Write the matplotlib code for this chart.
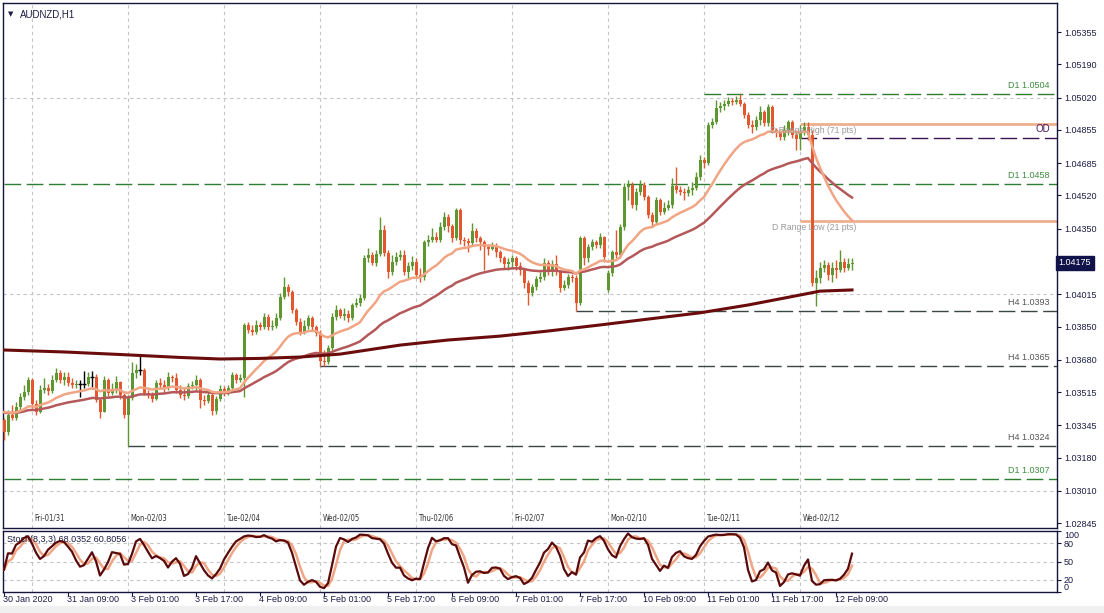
import numpy as np
import pandas as pd
import matplotlib
matplotlib.use("Agg")
import matplotlib.pyplot as plt
from matplotlib.transforms import blended_transform_factory

plt.rcParams['font.family'] = ['Liberation Sans', 'DejaVu Sans']

# AUDNZD H1 candles, bar 0 = 30 Jan 2020 17:00
close = [1.03311, 1.03397, 1.03382, 1.03438, 1.03490, 1.03516, 1.03577, 1.03454, 1.03413, 1.03526,
         1.03536, 1.03521, 1.03577, 1.03613, 1.03577, 1.03593, 1.03562, 1.03552, 1.03557, 1.03557,
         1.03557, 1.03593, 1.03593, 1.03474, 1.03413, 1.03577, 1.03510, 1.03531, 1.03567, 1.03500,
         1.03397, 1.03485, 1.03613, 1.03628, 1.03628, 1.03510, 1.03500, 1.03479, 1.03562, 1.03552,
         1.03536, 1.03593, 1.03588, 1.03526, 1.03500, 1.03495, 1.03547, 1.03552, 1.03577, 1.03474,
         1.03469, 1.03500, 1.03418, 1.03479, 1.03531, 1.03510, 1.03536, 1.03603, 1.03577, 1.03588,
         1.03858, 1.03832, 1.03822, 1.03858, 1.03847, 1.03898, 1.03847, 1.03852, 1.03893, 1.04001,
         1.04052, 1.04026, 1.03934, 1.03873, 1.03822, 1.03852, 1.03893, 1.03847, 1.03817, 1.03674,
         1.03668, 1.03740, 1.03898, 1.03934, 1.03904, 1.03914, 1.03893, 1.03960, 1.03970, 1.03996,
         1.04200, 1.04215, 1.04174, 1.04221, 1.04343, 1.04226, 1.04128, 1.04180, 1.04205, 1.04215,
         1.04128, 1.04159, 1.04180, 1.04113, 1.04103, 1.04282, 1.04292, 1.04307, 1.04292, 1.04359,
         1.04410, 1.04364, 1.04302, 1.04446, 1.04292, 1.04287, 1.04277, 1.04338, 1.04302, 1.04282,
         1.04256, 1.04246, 1.04261, 1.04231, 1.04200, 1.04169, 1.04180, 1.04200, 1.04159, 1.04139,
         1.04072, 1.04021, 1.04052, 1.04093, 1.04103, 1.04174, 1.04128, 1.04169, 1.04128, 1.04047,
         1.04062, 1.04103, 1.04098, 1.03970, 1.04302, 1.04200, 1.04256, 1.04282, 1.04267, 1.04307,
         1.04205, 1.04123, 1.04231, 1.04215, 1.04359, 1.04563, 1.04573, 1.04471, 1.04538, 1.04573,
         1.04512, 1.04420, 1.04384, 1.04497, 1.04435, 1.04456, 1.04471, 1.04568, 1.04548, 1.04538,
         1.04532, 1.04548, 1.04558, 1.04614, 1.04701, 1.04686, 1.04880, 1.04895, 1.04967, 1.04977,
         1.04987, 1.05003, 1.04998, 1.05008, 1.04987, 1.04931, 1.04880, 1.04870, 1.04906, 1.04946,
         1.04890, 1.04972, 1.04854, 1.04839, 1.04819, 1.04854, 1.04895, 1.04829, 1.04808, 1.04844,
         1.04870, 1.04829, 1.04072, 1.04098, 1.04149, 1.04164, 1.04113, 1.04149, 1.04139, 1.04180,
         1.04149, 1.04169, 1.04175]
high = [1.03382, 1.03423, 1.03449, 1.03464, 1.03510, 1.03552, 1.03593, 1.03588, 1.03474, 1.03552,
        1.03588, 1.03557, 1.03603, 1.03638, 1.03628, 1.03618, 1.03618, 1.03588, 1.03577, 1.03577,
        1.03623, 1.03618, 1.03623, 1.03608, 1.03485, 1.03598, 1.03588, 1.03562, 1.03598, 1.03572,
        1.03510, 1.03500, 1.03668, 1.03658, 1.03704, 1.03638, 1.03526, 1.03516, 1.03577, 1.03588,
        1.03577, 1.03618, 1.03603, 1.03613, 1.03552, 1.03536, 1.03562, 1.03572, 1.03603, 1.03588,
        1.03500, 1.03516, 1.03510, 1.03495, 1.03552, 1.03547, 1.03552, 1.03618, 1.03613, 1.03608,
        1.03868, 1.03873, 1.03858, 1.03883, 1.03873, 1.03919, 1.03914, 1.03883, 1.03919, 1.04021,
        1.04103, 1.04067, 1.04037, 1.03944, 1.03893, 1.03883, 1.03909, 1.03904, 1.03858, 1.03832,
        1.03730, 1.03755, 1.03919, 1.03960, 1.03944, 1.03944, 1.03934, 1.03970, 1.03996, 1.04016,
        1.04215, 1.04251, 1.04231, 1.04241, 1.04410, 1.04369, 1.04241, 1.04215, 1.04231, 1.04241,
        1.04241, 1.04180, 1.04210, 1.04200, 1.04149, 1.04292, 1.04318, 1.04353, 1.04333, 1.04384,
        1.04435, 1.04425, 1.04374, 1.04456, 1.04456, 1.04307, 1.04302, 1.04379, 1.04353, 1.04313,
        1.04292, 1.04272, 1.04282, 1.04277, 1.04241, 1.04210, 1.04200, 1.04215, 1.04210, 1.04180,
        1.04149, 1.04088, 1.04067, 1.04108, 1.04128, 1.04200, 1.04190, 1.04190, 1.04215, 1.04139,
        1.04088, 1.04118, 1.04118, 1.04113, 1.04313, 1.04313, 1.04272, 1.04297, 1.04292, 1.04328,
        1.04313, 1.04139, 1.04241, 1.04343, 1.04374, 1.04583, 1.04599, 1.04589, 1.04558, 1.04599,
        1.04589, 1.04522, 1.04435, 1.04512, 1.04507, 1.04486, 1.04497, 1.04609, 1.04665, 1.04568,
        1.04558, 1.04568, 1.04589, 1.04640, 1.04727, 1.04716, 1.04895, 1.04916, 1.05008, 1.04998,
        1.05008, 1.05023, 1.05018, 1.05028, 1.05040, 1.04998, 1.04946, 1.04906, 1.04926, 1.04977,
        1.04957, 1.04987, 1.04982, 1.04865, 1.04854, 1.04880, 1.04906, 1.04906, 1.04854, 1.04880,
        1.04895, 1.04895, 1.04854, 1.04139, 1.04180, 1.04190, 1.04180, 1.04180, 1.04190, 1.04241,
        1.04200, 1.04200, 1.04200]
low = [1.03270, 1.03295, 1.03372, 1.03372, 1.03423, 1.03474, 1.03500, 1.03433, 1.03397, 1.03408,
       1.03510, 1.03500, 1.03510, 1.03567, 1.03562, 1.03552, 1.03547, 1.03536, 1.03536, 1.03490,
       1.03536, 1.03547, 1.03531, 1.03464, 1.03382, 1.03413, 1.03495, 1.03500, 1.03510, 1.03479,
       1.03382, 1.03240, 1.03474, 1.03588, 1.03603, 1.03500, 1.03485, 1.03464, 1.03474, 1.03531,
       1.03516, 1.03526, 1.03567, 1.03510, 1.03485, 1.03474, 1.03485, 1.03531, 1.03526, 1.03433,
       1.03449, 1.03459, 1.03397, 1.03403, 1.03469, 1.03495, 1.03500, 1.03526, 1.03562, 1.03567,
       1.03490, 1.03817, 1.03806, 1.03812, 1.03832, 1.03837, 1.03832, 1.03832, 1.03842, 1.03883,
       1.03990, 1.04006, 1.03919, 1.03858, 1.03806, 1.03812, 1.03837, 1.03832, 1.03801, 1.03650,
       1.03648, 1.03658, 1.03730, 1.03883, 1.03893, 1.03883, 1.03873, 1.03883, 1.03950, 1.03955,
       1.03985, 1.04180, 1.04164, 1.04159, 1.04210, 1.04210, 1.04098, 1.04113, 1.04164, 1.04190,
       1.04113, 1.04098, 1.04139, 1.04098, 1.04077, 1.04088, 1.04261, 1.04282, 1.04282, 1.04282,
       1.04343, 1.04333, 1.04282, 1.04292, 1.04272, 1.04261, 1.04231, 1.04261, 1.04282, 1.04241,
       1.04139, 1.04215, 1.04241, 1.04205, 1.04180, 1.04149, 1.04139, 1.04149, 1.04139, 1.04113,
       1.04047, 1.03960, 1.04006, 1.04037, 1.04077, 1.04088, 1.04113, 1.04108, 1.04113, 1.04026,
       1.04037, 1.04047, 1.04077, 1.03930, 1.03960, 1.04164, 1.04180, 1.04241, 1.04251, 1.04251,
       1.04180, 1.04026, 1.04108, 1.04200, 1.04200, 1.04343, 1.04497, 1.04456, 1.04446, 1.04522,
       1.04497, 1.04405, 1.04359, 1.04369, 1.04420, 1.04425, 1.04446, 1.04456, 1.04532, 1.04522,
       1.04497, 1.04517, 1.04522, 1.04548, 1.04599, 1.04660, 1.04676, 1.04865, 1.04885, 1.04946,
       1.04957, 1.04977, 1.04982, 1.04987, 1.04977, 1.04916, 1.04865, 1.04839, 1.04854, 1.04880,
       1.04875, 1.04875, 1.04839, 1.04819, 1.04803, 1.04803, 1.04829, 1.04814, 1.04752, 1.04752,
       1.04829, 1.04803, 1.04057, 1.03955, 1.04072, 1.04128, 1.04088, 1.04077, 1.04098, 1.04128,
       1.04128, 1.04139, 1.04139]
first_open = 1.03372
gap_open = {151: 1.04037}

# 200 MA
ma200_bar = [0, 15, 29, 44, 54, 64, 74, 84, 99, 111, 124, 136, 149, 161, 174, 186, 199, 204, 212]
ma200_val = [1.03730, 1.03720, 1.03707, 1.03692, 1.03684, 1.03687, 1.03694, 1.03709, 1.03755, 1.03781,
             1.03801, 1.03827, 1.03858, 1.03888, 1.03920, 1.03960, 1.04011, 1.04031, 1.04037]
ema21_start = 1.03423
ema50_start = 1.03413

# levels: (price, first bar, label, kind)
levels = [(1.0504, 175, "D1 1.0504", "D1"), (1.0458, 0, "D1 1.0458", "D1"),
          (1.0393, 143, "H4 1.0393", "H4"), (1.0365, 79, "H4 1.0365", "H4"),
          (1.0324, 31, "H4 1.0324", "H4"), (1.0307, 0, "D1 1.0307", "D1")]
od_price = 1.04814
range_high = 1.04885
range_low = 1.04389
range_start = 199

price_ticks = [1.05355, 1.05190, 1.05020, 1.04855, 1.04685, 1.04520, 1.04350, 1.04015,
               1.03850, 1.03680, 1.03515, 1.03345, 1.03180, 1.03010, 1.02845]
grid_prices = [1.05020, 1.04015, 1.03010]
day_bars = [7, 31, 55, 79, 103, 127, 151, 175, 199]
day_labels = ["Fri-01/31", "Mon-02/03", "Tue-02/04", "Wed-02/05", "Thu-02/06",
              "Fri-02/07", "Mon-02/10", "Tue-02/11", "Wed-02/12"]
time_bars = [0, 16, 32, 48, 64, 80, 96, 112, 128, 144, 160, 176, 192, 208]
time_labels = ["30 Jan 2020", "31 Jan 09:00", "3 Feb 01:00", "3 Feb 17:00", "4 Feb 09:00",
               "5 Feb 01:00", "5 Feb 17:00", "6 Feb 09:00", "7 Feb 01:00", "7 Feb 17:00",
               "10 Feb 09:00", "11 Feb 01:00", "11 Feb 17:00", "12 Feb 09:00"]

n = len(close)
x = np.arange(n)
op = [first_open] + close[:-1]
for k, v in gap_open.items():
    op[k] = v
op = np.array(op); cl = np.array(close); hi = np.array(high); lo = np.array(low)


def ema(vals, period, seed):
    a = 2.0 / (period + 1)
    out, e = [], seed
    for v in vals:
        e = e + a * (v - e)
        out.append(e)
    return np.array(out)


ema21 = ema(cl, 21, ema21_start)
ema50 = ema(cl, 50, ema50_start)

cs, hs, ls = pd.Series(cl), pd.Series(hi), pd.Series(lo)
hh = hs.rolling(8, min_periods=1).max()
ll = ls.rolling(8, min_periods=1).min()
k_line = 100 * (cs - ll).rolling(3, min_periods=1).sum() / (hh - ll).rolling(3, min_periods=1).sum()
d_line = k_line.rolling(3, min_periods=1).mean()

W, H = 1104, 613
fig = plt.figure(figsize=(W / 100, H / 100), dpi=100)


def frame(x0, y0, x1, y1):
    return [x0 / W, 1 - y1 / H, (x1 - x0) / W, (y1 - y0) / H]


frame_col = '#14143c'
text_col = '#1c1c44'
ax = fig.add_axes(frame(3, 3, 1057, 528))
ax2 = fig.add_axes(frame(3, 531, 1057, 592))
xl = (-0.25, 263.25)
for a in (ax, ax2):
    a.set_xlim(*xl)
    for s in a.spines.values():
        s.set_color(frame_col)
        s.set_linewidth(1)
    a.set_xticks([])
    for b in day_bars:
        a.axvline(b, color='#c4c4c4', lw=0.8, ls=(0, (3, 3)), zorder=0)
ax.set_ylim(1.02820, 1.05504)

for g in grid_prices:
    ax.axhline(g, color='#c4c4c4', lw=0.8, ls=(0, (3, 3)), zorder=0)

# candles
bull, bear = '#5e9631', '#e4572e'
for i in range(n):
    if abs(cl[i] - op[i]) < 1e-6:
        col = 'black'
    elif cl[i] > op[i]:
        col = bull
    else:
        col = bear
    ax.vlines(i, lo[i], hi[i], color=col, lw=1, zorder=3)
    bot, top = min(op[i], cl[i]), max(op[i], cl[i])
    if top - bot < 2e-5:
        ax.hlines((top + bot) / 2, i - 0.4, i + 0.4, color=col, lw=1, zorder=3)
    else:
        ax.bar(i, top - bot, bottom=bot, width=0.75, color=col, lw=0, zorder=3)

ax.plot(x, ema50, color='#b4585a', lw=1.8, zorder=4)
ax.plot(x, ema21, color='#f0a584', lw=1.8, zorder=4)
ax.plot(ma200_bar, ma200_val, color='#6a0c0c', lw=2.2, zorder=4)

# levels
dash = (0, (12, 4))
lvl_style = {"D1": ('#2e7d32', '#3d8b3d'), "H4": ('#3c4646', '#555555')}
for p, b0, lab, kind in levels:
    lc, tc = lvl_style[kind]
    ax.hlines(p, b0, xl[1], color=lc, lw=1, linestyles=dash, zorder=2)
    ax.text(261.5, p + 0.00020, lab, color=tc, fontsize=6.5, ha='right', va='bottom', zorder=5)

ax.hlines(od_price, range_start, xl[1], color='#3c1450', lw=1, linestyles=dash, zorder=2)
ax.text(261.5, od_price + 0.00020, "OD", color='#4a1a62', fontsize=7, ha='right', va='bottom', zorder=5)
ax.hlines([range_high, range_low], range_start, xl[1], color='#eeb08e', lw=2, zorder=2)
ax.text(213, range_high - 0.00010, "D Range High (71 pts)", color='#9a9a9a', fontsize=6.2,
        ha='right', va='top', zorder=5)
ax.text(213, range_low - 0.00010, "D Range Low (21 pts)", color='#9a9a9a', fontsize=6.2,
        ha='right', va='top', zorder=5)

# price axis
ax.yaxis.tick_right()
ax.set_yticks(price_ticks)
ax.set_yticklabels(["%.5f" % t for t in price_ticks])
ax.tick_params(axis='y', length=3, width=0.8, color=frame_col, labelsize=6.5, labelcolor=text_col, pad=2)
tr = blended_transform_factory(ax.transAxes, ax.transData)
ax.text(1.0015, cl[-1], "%.5f" % cl[-1], transform=tr, fontsize=6.5, color='white', ha='left', va='center',
        bbox=dict(boxstyle='square,pad=0.3', fc='#12124a', ec='#12124a'), zorder=6, clip_on=False)

ax.text(0.005, 0.985, "\u25bc", transform=ax.transAxes, fontsize=5, color=text_col, va='top',
        family='DejaVu Sans')
ax.text(0.016, 0.988, "AUDNZD,H1", transform=ax.transAxes, fontsize=7, color=text_col, va='top')

for b, lab in zip(day_bars, day_labels):
    ax.text(b + 0.6, 1.0287, lab, fontsize=5.5, color='#333333', ha='left', va='center',
            family='DejaVu Sans', stretch='condensed')

# stochastic
ax2.set_ylim(0, 100)
for lv in (80, 50, 20):
    ax2.axhline(lv, color='#c4c4c4', lw=0.8, ls=(0, (3, 3)), zorder=0)
ax2.plot(x, d_line, color='#f0a584', lw=1.8, zorder=3)
ax2.plot(x, k_line, color='#5a0a0a', lw=1.6, zorder=4)
ax2.yaxis.tick_right()
stoch_ticks = [100, 80, 50, 20, 0]
ax2.set_yticks(stoch_ticks)
ax2.set_yticklabels([str(t) for t in stoch_ticks])
ax2.tick_params(axis='y', length=3, width=0.8, color=frame_col, labelsize=6.5, labelcolor=text_col, pad=2)
for t, v in zip(ax2.get_yticklabels(), stoch_ticks):
    if v == 100:
        t.set_va('top')
    elif v == 0:
        t.set_va('bottom')
ax2.text(0.004, 0.86, "Stoch(8,3,3) 68.0352 60.8056", transform=ax2.transAxes, fontsize=6.5,
         color=text_col, va='center')

# time axis
for b, lab in zip(time_bars, time_labels):
    ax2.vlines(b, -6, 0, color=frame_col, lw=0.8, clip_on=False)
    ax2.text(b - 0.2, -12, lab, fontsize=6.5, color=text_col, ha='left', va='center', clip_on=False)

fig.patches.append(plt.Rectangle((0, 0), 1, 7 / H, transform=fig.transFigure, color='#f0f0f0', zorder=-1))

fig.savefig("out.png", dpi=100)
